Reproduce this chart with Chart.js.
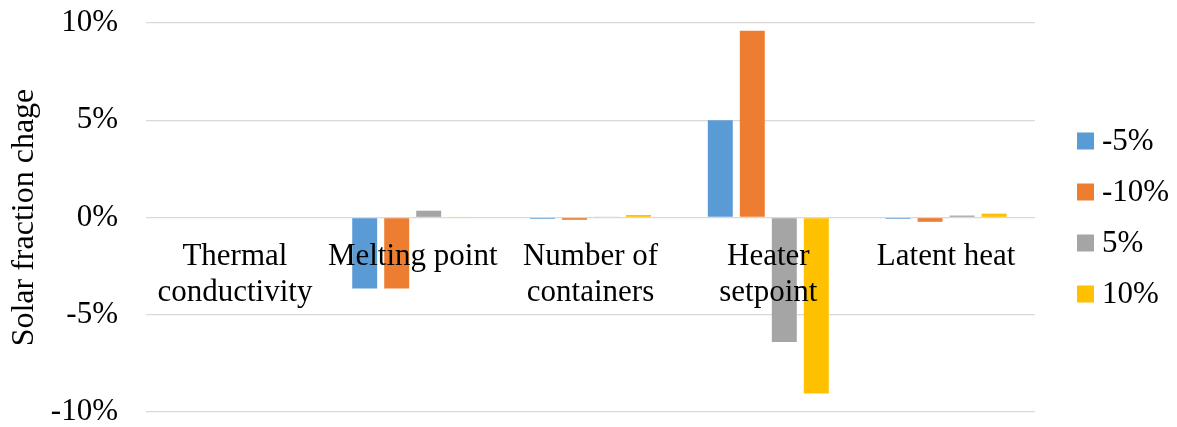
<!DOCTYPE html>
<html>
<head>
<meta charset="utf-8">
<script src="https://cdn.jsdelivr.net/npm/chart.js@4/dist/chart.umd.min.js"></script>
<style>
  html, body { margin: 0; padding: 0; background: #fff; }
  #wrap { width: 1177px; height: 427px; }
</style>
</head>
<body>
<div id="wrap"><canvas id="grafico"></canvas></div>
<script>
// Dados (variação da fração solar, em %)
const categorias = [
  ["Thermal", "conductivity"],
  ["Melting point"],
  ["Number of", "containers"],
  ["Heater", "setpoint"],
  ["Latent heat"]
];
const rotulosSeries = ["-5%", "-10%", "5%", "10%"];
const menos5 = [0, -3.65, -0.07, 5.0, -0.07];
const menos10 = [0, -3.65, -0.12, 9.6, -0.22];
const mais5 = [0, 0.35, 0.04, -6.4, 0.1];
const mais10 = [0, 0.03, 0.13, -9.05, 0.2];
const ticksY = [-10, -5, 0, 5, 10];

const cores = ["#5B9BD5", "#ED7D31", "#A5A5A5", "#FFC000"];
const fonte = "'Liberation Serif', 'Times New Roman', serif";
const tamFonte = 31;

// Rótulos das categorias desenhados logo abaixo da linha do zero
const rotulosCategorias = {
  id: "rotulosCategorias",
  afterDatasetsDraw(chart) {
    const ctx = chart.ctx;
    const x = chart.scales.x;
    const y0 = chart.scales.y.getPixelForValue(0);
    ctx.save();
    ctx.font = tamFonte + "px " + fonte;
    ctx.fillStyle = "#000";
    ctx.textAlign = "center";
    ctx.textBaseline = "alphabetic";
    categorias.forEach((linhas, i) => {
      const cx = x.getPixelForValue(i);
      linhas.forEach((t, k) => ctx.fillText(t, cx, y0 + 47 + k * 36));
    });
    ctx.restore();
  }
};

// Legenda à direita
const legendaDireita = {
  id: "legendaDireita",
  afterDraw(chart) {
    const ctx = chart.ctx;
    const area = chart.chartArea;
    const meio = (area.top + area.bottom) / 2;
    const passo = 51;
    const inicio = meio - (rotulosSeries.length - 1) * passo / 2;
    ctx.save();
    ctx.font = tamFonte + "px " + fonte;
    ctx.textBaseline = "middle";
    ctx.textAlign = "left";
    rotulosSeries.forEach((r, i) => {
      const yc = inicio + i * passo;
      ctx.fillStyle = cores[i];
      ctx.fillRect(1077, yc - 8.5, 17, 17);
      ctx.fillStyle = "#000";
      ctx.fillText(r, 1102, yc + 1);
    });
    ctx.restore();
  }
};

const ctx = document.getElementById("grafico").getContext("2d");
const grafico = new Chart(ctx, {
  type: "bar",
  data: {
    labels: categorias.map(c => c.join(" ")),
    datasets: [menos5, menos10, mais5, mais10].map((d, i) => ({
      label: rotulosSeries[i],
      data: d,
      backgroundColor: cores[i],
      borderWidth: 0,
      categoryPercentage: 0.72,
      barPercentage: 0.78
    }))
  },
  options: {
    responsive: true,
    maintainAspectRatio: false,
    animation: false,
    layout: { padding: { top: 23, bottom: 15, left: 0, right: 142 } },
    plugins: {
      legend: { display: false },
      tooltip: { enabled: false }
    },
    scales: {
      x: { display: false },
      y: {
        min: -10,
        max: 10,
        afterBuildTicks: s => { s.ticks = ticksY.map(v => ({ value: v })); },
        afterFit: s => {
          s.width = 146;
          s.paddingTop = 0;
          s.paddingBottom = 0;
        },
        grid: { color: "#D9D9D9", lineWidth: 1.3, drawTicks: false },
        border: { display: false },
        ticks: {
          padding: 28,
          color: "#000",
          font: { family: fonte, size: tamFonte },
          callback: v => v + "%"
        },
        title: {
          display: true,
          text: "Solar fraction chage",
          color: "#000",
          font: { family: fonte, size: 32 },
          padding: { top: 5, bottom: 0 }
        }
      }
    }
  },
  plugins: [rotulosCategorias, legendaDireita]
});
</script>
</body>
</html>
